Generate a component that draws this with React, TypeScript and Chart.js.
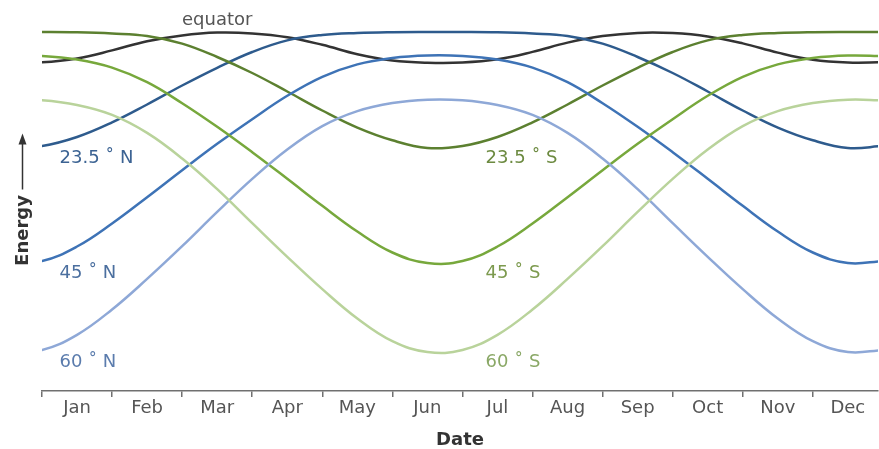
import React, { useEffect, useRef } from "react";
import { Chart, registerables } from "chart.js";

Chart.register(...registerables);

const FONT = "'DejaVu Sans', Verdana, sans-serif";

// month tick labels
const months = ["Jan", "Feb", "Mar", "Apr", "May", "Jun", "Jul", "Aug", "Sep", "Oct", "Nov", "Dec"];

// sample positions (months since 1 Jan; -0.5 = mid-December of the year before)
const sampleMonths = [-0.5, 0, 0.5, 1, 1.5, 2, 2.5, 3, 3.5, 4, 4.5, 5, 5.5, 6, 6.5, 7, 7.5, 8, 8.5, 9, 9.5, 10, 10.5, 11, 11.5, 12];

// energy (arbitrary units)
const equator = [337.5, 337.7, 341.5, 349.6, 358.8, 364.6, 367.4, 366.6, 362.8, 355.2, 345.8, 339.5, 337.3, 337.5, 340.7, 348.1, 357.4, 363.9, 367.1, 366.9, 363.6, 356.6, 347.4, 340.3, 337.5, 337.7];
const north235 = [252, 254, 263, 277.6, 295.5, 314.5, 332.2, 348, 359.6, 365, 367, 367.8, 368, 368, 367.7, 366.5, 364, 356.4, 343, 327, 308.5, 289.5, 272.4, 259.7, 252, 254];
const south235 = [368, 368, 367.7, 366.5, 364, 356.4, 343, 327, 308.5, 289.5, 272.4, 259.7, 252, 254, 263, 277.6, 295.5, 314.5, 332.2, 348, 359.6, 365, 367, 367.8, 368, 368];
const north45 = [137, 139, 153.5, 176.5, 202.8, 229.8, 256.2, 280.8, 304.2, 323.2, 335.6, 342, 344.5, 344, 340.5, 332.4, 317.8, 296.8, 273.2, 247.8, 221.2, 194.2, 168.5, 147.5, 137, 139];
const south45 = [344.5, 344, 340.5, 332.4, 317.8, 296.8, 273.2, 247.8, 221.2, 194.2, 168.5, 147.5, 137, 139, 153.5, 176.5, 202.8, 229.8, 256.2, 280.8, 304.2, 323.2, 335.6, 342, 344.5, 344];
const north60 = [48, 50, 65.2, 90.5, 121.1, 153.8, 188.1, 221.1, 250.5, 273.9, 288.9, 297, 300.3, 299.7, 295, 285.1, 267.1, 241.5, 210.9, 176.9, 143.2, 110.9, 81.5, 58.8, 48, 50];
const south60 = [300.3, 299.7, 295, 285.1, 267.1, 241.5, 210.9, 176.9, 143.2, 110.9, 81.5, 58.8, 48, 50, 65.2, 90.5, 121.1, 153.8, 188.1, 221.1, 250.5, 273.9, 288.9, 297, 300.3, 299.7];

const seriesNames = ["60 ˚ S", "60 ˚ N", "45 ˚ S", "45 ˚ N", "23.5 ˚ S", "23.5 ˚ N", "equator"];
const seriesValues = [south60, north60, south45, north45, south235, north235, equator];
const lineColors = ["#b9d39b", "#8ea8d7", "#77a83c", "#3e73b6", "#5c8030", "#2e5b8d", "#333333"];
const labelColors = ["#8aa866", "#5b7cad", "#7c9a4e", "#4b6f9f", "#6c8a40", "#3c6393", "#555555"];

export default function App() {
  const ref = useRef<HTMLCanvasElement | null>(null);

  useEffect(() => {
    document.body.style.margin = "0";
    const canvas = ref.current;
    if (!canvas) return;

    const labelPlugin = {
      id: "curveLabels",
      afterDatasetsDraw(chart: any) {
        const { ctx, scales, chartArea } = chart;
        const x = scales.x;
        const y = scales.y;
        ctx.save();
        ctx.font = `18px ${FONT}`;
        ctx.textBaseline = "alphabetic";
        seriesNames.forEach((name, i) => {
          const vals = seriesValues[i];
          ctx.fillStyle = labelColors[i];
          if (name === "equator") {
            let mi = 0;
            vals.forEach((v, k) => { if (v > vals[mi]) mi = k; });
            ctx.textAlign = "center";
            ctx.fillText(name, x.getPixelForValue(sampleMonths[mi]), y.getPixelForValue(vals[mi]) - 8);
          } else {
            const minV = Math.min(...vals);
            const at = name.endsWith("N") ? 0.25 : 6.33;
            ctx.textAlign = "left";
            ctx.fillText(name, x.getPixelForValue(at), y.getPixelForValue(minV) + 15);
          }
        });
        // y axis title with arrow
        const cy = (chartArea.top + chartArea.bottom) / 2 + 30;
        ctx.save();
        ctx.translate(28, cy);
        ctx.rotate(-Math.PI / 2);
        ctx.font = `bold 18px ${FONT}`;
        ctx.fillStyle = "#333";
        ctx.textAlign = "center";
        ctx.fillText("Energy", 0, 0);
        ctx.restore();
        ctx.strokeStyle = "#333";
        ctx.fillStyle = "#333";
        ctx.lineWidth = 1.5;
        ctx.beginPath();
        ctx.moveTo(22.5, cy - 41);
        ctx.lineTo(22.5, cy - 88);
        ctx.stroke();
        ctx.beginPath();
        ctx.moveTo(22.5, cy - 97);
        ctx.lineTo(18.5, cy - 86);
        ctx.lineTo(26.5, cy - 86);
        ctx.closePath();
        ctx.fill();
        ctx.restore();
      },
    };

    const chart = new Chart(canvas, {
      type: "line",
      data: {
        datasets: seriesNames.map((name, i) => ({
          label: name,
          data: sampleMonths.map((m, k) => ({ x: m, y: seriesValues[i][k] })),
          borderColor: lineColors[i],
          borderWidth: 2.5,
          pointRadius: 0,
          fill: false,
          tension: 0.4,
        })),
      },
      options: {
        responsive: false,
        animation: false,
        layout: { padding: { left: 42, right: 1, top: 10, bottom: 0 } },
        plugins: { legend: { display: false }, tooltip: { enabled: false } },
        scales: {
          x: {
            type: "linear",
            min: 0,
            max: 11.93,
            afterFit: (s: any) => { s.height = 58; },
            border: { display: true, color: "#707070", width: 1.5 },
            grid: { drawOnChartArea: false, drawTicks: true, tickLength: 6, color: "#707070", lineWidth: 1.5 },
            ticks: {
              stepSize: 1,
              includeBounds: false,
              autoSkip: false,
              maxRotation: 0,
              labelOffset: 35,
              padding: 1,
              color: "#555",
              font: { family: FONT, size: 18 },
              callback: (v: any) => months[Math.round(Number(v))] ?? "",
            },
            title: {
              display: true,
              text: "Date",
              color: "#333",
              padding: 0,
              font: { family: FONT, size: 18, weight: "bold", lineHeight: 1 },
            },
          },
          y: { display: false, min: 9, max: 390 },
        },
      },
      plugins: [labelPlugin],
    } as any);
    return () => chart.destroy();
  }, []);

  return (
    <div style={{ width: 879, height: 449 }}>
      <canvas ref={ref} width={879} height={449} style={{ display: "block" }} />
    </div>
  );
}
